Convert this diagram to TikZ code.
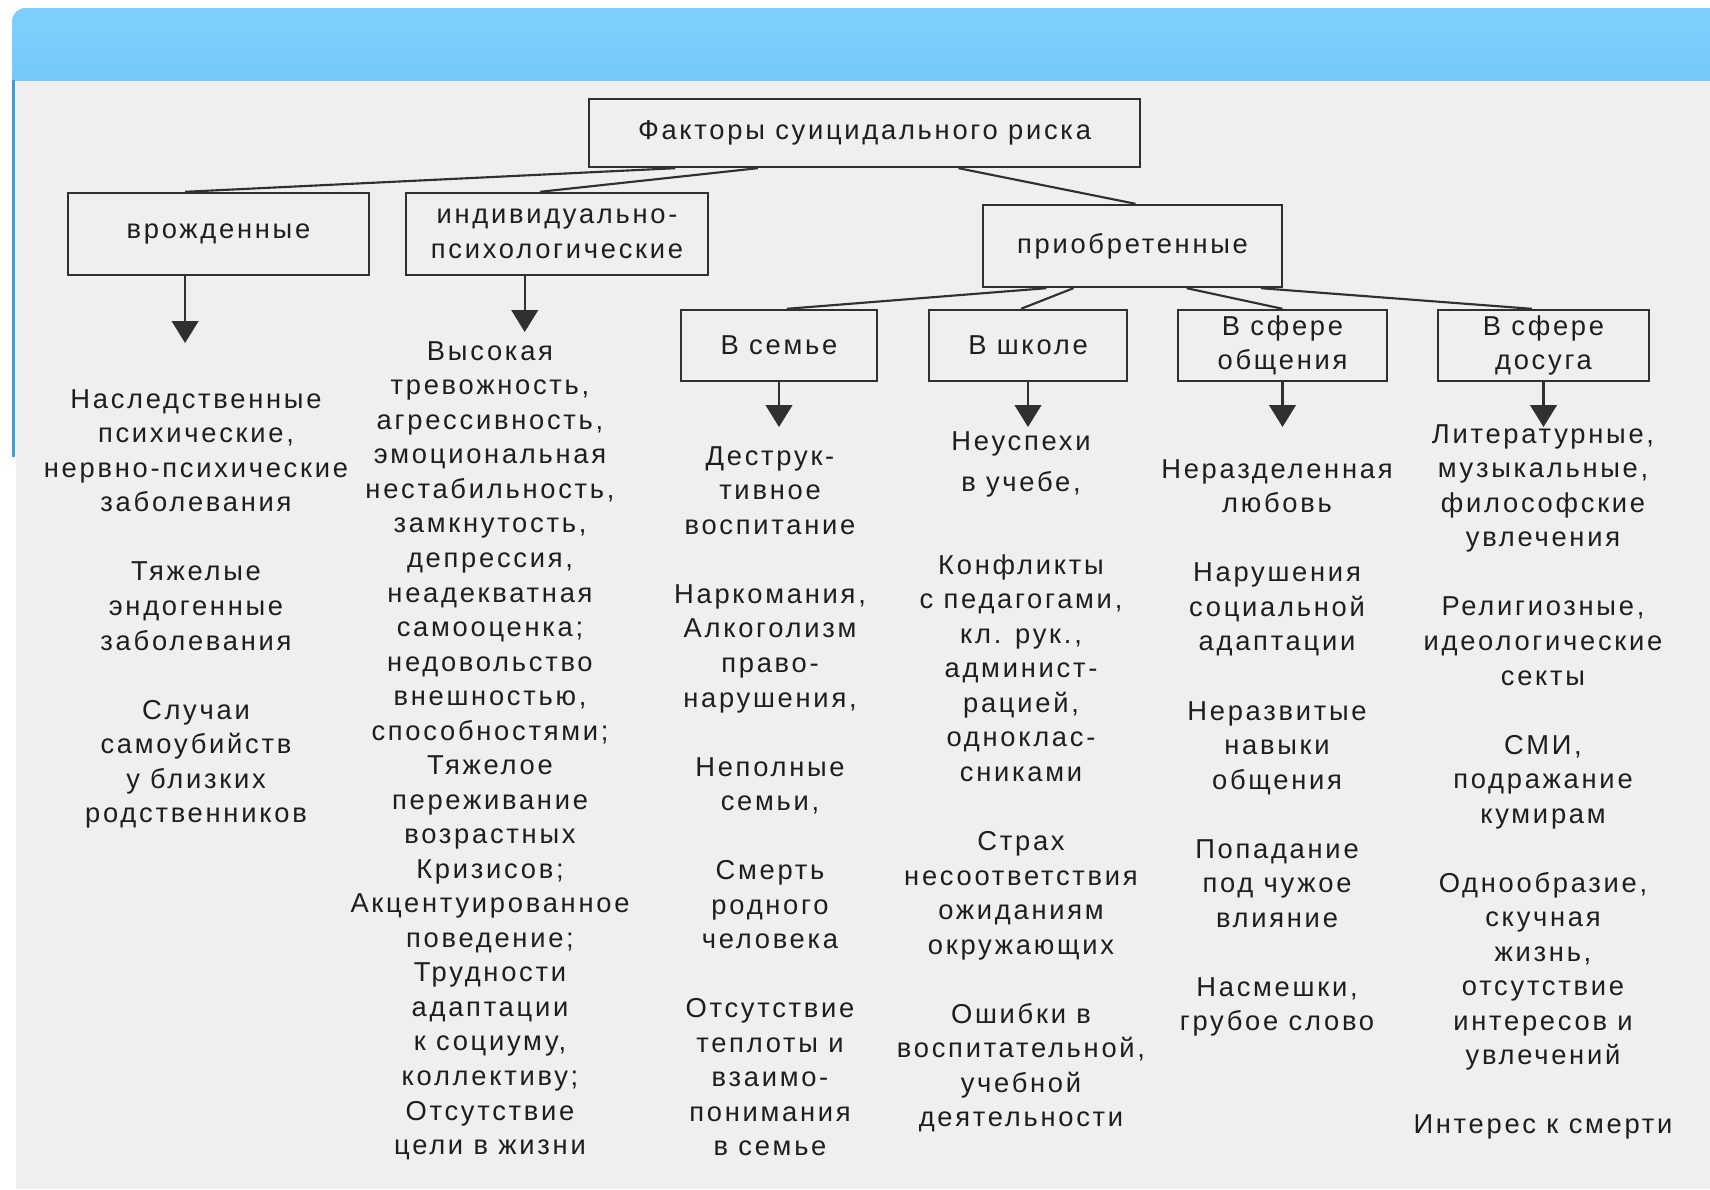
\documentclass[tikz,border=0pt]{standalone}
\usepackage{fontspec}
\setmainfont{Liberation Sans}
\newfontfamily\schemefont{Liberation Sans}[LetterSpace=10]
\usetikzlibrary{arrows.meta,calc}

\definecolor{panelgray}{RGB}{239,239,239}
\definecolor{bluetop}{RGB}{126,207,253}
\definecolor{bluebot}{RGB}{110,196,246}
\definecolor{edgeblue}{RGB}{64,156,212}
\definecolor{inkgray}{RGB}{30,30,30}
\definecolor{boxgray}{RGB}{48,48,48}

\newlength\gapskip
\setlength\gapskip{25.9pt}

\tikzset{every picture/.style={line width=0.75pt}}
\tikzset{
  box/.style={draw=boxgray, line width=1.8pt, inner sep=0pt, align=center, text=inkgray,
    font=\schemefont\fontsize{20.5pt}{25.9pt}\selectfont},
  list/.style={anchor=north, inner sep=0pt, align=center, text=inkgray,
    font=\schemefont\fontsize{20.5pt}{25.9pt}\selectfont},
  link/.style={draw=boxgray, line width=1.6pt},
  arr/.style={link, -{Triangle[width=20pt,length=16.5pt]}}
}

\begin{document}
\begin{tikzpicture}[x=0.75pt,y=0.75pt,yscale=-1,xscale=1]
        \useasboundingbox (0,0) rectangle (1710,1189);

        %Shape: Rectangle [panel]
        \fill [white] (0,0) rectangle (1710,1189);
        \fill [panelgray] (16,80) rectangle (1710,1189);
        %Shape: Header bar
        \begin{scope}
          \clip (0,0) rectangle (1710,80);
          \shade [top color=bluetop, bottom color=bluebot, rounded corners=10pt] (12,8) rectangle (1750,130);
        \end{scope}
        %Straight Lines [left edge]
        \draw [edgeblue, line width=2.2pt] (13.5,80) -- (13.5,457);

        %Shape: Rectangle [root]
        \node [box, minimum width=413pt, minimum height=51pt] (root) at (864.5,133) {Факторы суицидального риска};
        %Shape: Rectangle [level 1]
        \node [box, minimum width=226pt, minimum height=61.5pt] (vrozh) at (218.5,234) {врожденные};
        \node [box, minimum width=226.5pt, minimum height=61.5pt] (indiv) at (557,234) {индивидуально-\\психологические};
        \node [box, minimum width=224.25pt, minimum height=61.5pt] (priobr) at (1132.5,246) {приобретенные};
        %Shape: Rectangle [level 2]
        \node [box, minimum width=147pt, minimum height=53.25pt] (semya) at (779,345.5) {В семье};
        \node [box, minimum width=148.5pt, minimum height=53.25pt] (shkola) at (1028,345.5) {В школе};
        \node [box, minimum width=156.75pt, minimum height=53.25pt] (obsch) at (1282.5,345.5) {В сфере\\общения};
        \node [box, minimum width=158.25pt, minimum height=53.25pt] (dosug) at (1543.5,345.5) {В сфере\\досуга};

        %Straight Lines [root to level 1]
        \draw [link] ($(root.south west)!0.158!(root.south east)$) -- ($(vrozh.north west)!0.39!(vrozh.north east)$) ;
        \draw [link] ($(root.south west)!0.307!(root.south east)$) -- ($(indiv.north west)!0.444!(indiv.north east)$) ;
        \draw [link] ($(root.south west)!0.67!(root.south east)$) -- ($(priobr.north west)!0.51!(priobr.north east)$) ;
        %Straight Lines [priobr to level 2]
        \draw [link] ($(priobr.south west)!0.214!(priobr.south east)$) -- ($(semya.north west)!0.54!(semya.north east)$) ;
        \draw [link] ($(priobr.south west)!0.304!(priobr.south east)$) -- ($(shkola.north west)!0.465!(shkola.north east)$) ;
        \draw [link] ($(priobr.south west)!0.68!(priobr.south east)$) -- (obsch.north) ;
        \draw [link] ($(priobr.south west)!0.926!(priobr.south east)$) -- ($(dosug.north west)!0.445!(dosug.north east)$) ;

        %Arrows
        \coordinate (vrozh-s) at ($(vrozh.south west)!0.39!(vrozh.south east)$);
        \coordinate (indiv-s) at ($(indiv.south west)!0.394!(indiv.south east)$);
        \coordinate (vrozh-tip) at (vrozh-s |- 0,343);
        \coordinate (indiv-tip) at (indiv-s |- 0,332);
        \coordinate (semya-tip) at (semya.south |- 0,427);
        \coordinate (shkola-tip) at (shkola.south |- 0,427);
        \coordinate (obsch-tip) at (obsch.south |- 0,427);
        \coordinate (dosug-tip) at (dosug.south |- 0,427);
        \draw [arr] (vrozh-s) -- (vrozh-tip) ;
        \draw [arr] (indiv-s) -- (indiv-tip) ;
        \draw [arr] (semya.south) -- (semya-tip) ;
        \draw [arr] (shkola.south) -- (shkola-tip) ;
        \draw [arr] (obsch.south) -- (obsch-tip) ;
        \draw [arr] (dosug.south) -- (dosug-tip) ;

        % Text Node
        \node [list] (vrozh-list) at (196,389) {Наследственные\\психические,\\нервно-психические\\заболевания\\[\gapskip]Тяжелые\\эндогенные\\заболевания\\[\gapskip]Случаи\\самоубийств\\у близких\\родственников};
        % Text Node
        \node [list] (indiv-list) at (490,341) {Высокая\\тревожность,\\агрессивность,\\эмоциональная\\нестабильность,\\замкнутость,\\депрессия,\\неадекватная\\самооценка;\\недовольство\\внешностью,\\способностями;\\Тяжелое\\переживание\\возрастных\\Кризисов;\\Акцентуированное\\поведение;\\Трудности\\адаптации\\к социуму,\\коллективу;\\Отсутствие\\цели в жизни};
        % Text Node
        \node [list] (semya-list) at (770,446) {Деструк-\\тивное\\воспитание\\[\gapskip]Наркомания,\\Алкоголизм\\право-\\нарушения,\\[\gapskip]Неполные\\семьи,\\[\gapskip]Смерть\\родного\\человека\\[\gapskip]Отсутствие\\теплоты и\\взаимо-\\понимания\\в семье};
        % Text Node
        \node [list] (shkola-list) at (1021,431) {Неуспехи\\[4.8pt]в учебе,\\[36.4pt]Конфликты\\с педагогами,\\кл. рук.,\\админист-\\рацией,\\одноклас-\\сниками\\[\gapskip]Страх\\несоответствия\\ожиданиям\\окружающих\\[\gapskip]Ошибки в\\воспитательной,\\учебной\\деятельности};
        % Text Node
        \node [list] (obsch-list) at (1277,459) {Неразделенная\\любовь\\[\gapskip]Нарушения\\социальной\\адаптации\\[\gapskip]Неразвитые\\навыки\\общения\\[\gapskip]Попадание\\под чужое\\влияние\\[\gapskip]Насмешки,\\грубое слово};
        % Text Node
        \node [list] (dosug-list) at (1543,424) {Литературные,\\музыкальные,\\философские\\увлечения\\[\gapskip]Религиозные,\\идеологические\\секты\\[\gapskip]СМИ,\\подражание\\кумирам\\[\gapskip]Однообразие,\\скучная\\жизнь,\\отсутствие\\интересов и\\увлечений\\[\gapskip]Интерес к смерти};

\end{tikzpicture}
\end{document}
